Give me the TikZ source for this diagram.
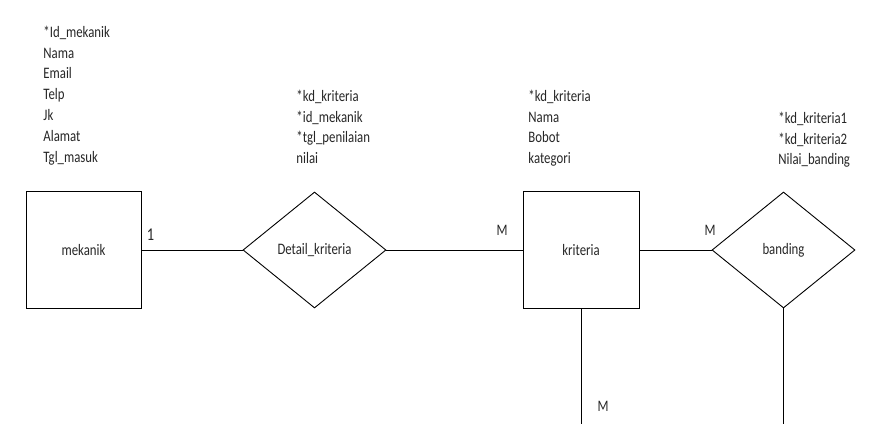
\documentclass[tikz,border=0pt]{standalone}
\usepackage{fontspec}
\setmainfont{Carlito}[FakeStretch=0.8]
\usetikzlibrary{shapes.geometric}

\begin{document}
\begin{tikzpicture}[x=10pt, y=-10pt, line width=0.9pt,
  every node/.style={font=\fontsize{16}{20.8}\selectfont, text=black!85},
  entity/.style={draw, rectangle, minimum width=115pt, minimum height=117pt, inner sep=0pt},
  relation/.style={draw, diamond, minimum width=143pt, minimum height=116pt, inner sep=0pt},
  attrs/.style={align=left, anchor=north west, inner sep=0pt}]
\useasboundingbox (0,0) rectangle (88.3,42.4);

% entities
\node[entity] (mekanik) at (8.35, 25) {mekanik};
\node[entity, minimum width=116pt] (kriteria) at (58.1, 25) {kriteria};

% relations
\node[relation] (detail) at (31.45, 25) {Detail\_kriteria};
\node[relation] (banding) at (78.35, 25) {banding};

% edges
\coordinate (k1) at (58.1, 42.4);
\coordinate (b1) at (78.35, 42.4);

\draw (mekanik) -- (detail);
\draw (detail) -- (kriteria);
\draw (kriteria) -- (banding);
\draw (kriteria) -- (k1);
\draw (banding) -- (b1);

% cardinality
\node[font=\fontsize{18}{20}\selectfont] (c1) at (15.05, 23.5) {1};
\node (c2) at (50.2, 23.0) {M};
\node (c3) at (71.0, 23.0) {M};
\node (c4) at (60.3, 40.6) {M};

% attributes
\node[attrs] (a1) at (4.3, 2.55) {*Id\_mekanik\\Nama\\Email\\Telp\\Jk\\Alamat\\Tgl\_masuk};
\node[attrs] (a2) at (29.6, 8.95) {*kd\_kriteria\\*id\_mekanik\\*tgl\_penilaian\\nilai};
\node[attrs] (a3) at (52.8, 8.95) {*kd\_kriteria\\Nama\\Bobot\\kategori};
\node[attrs] (a4) at (77.8, 11.15) {*kd\_kriteria1\\*kd\_kriteria2\\Nilai\_banding};
\end{tikzpicture}
\end{document}
